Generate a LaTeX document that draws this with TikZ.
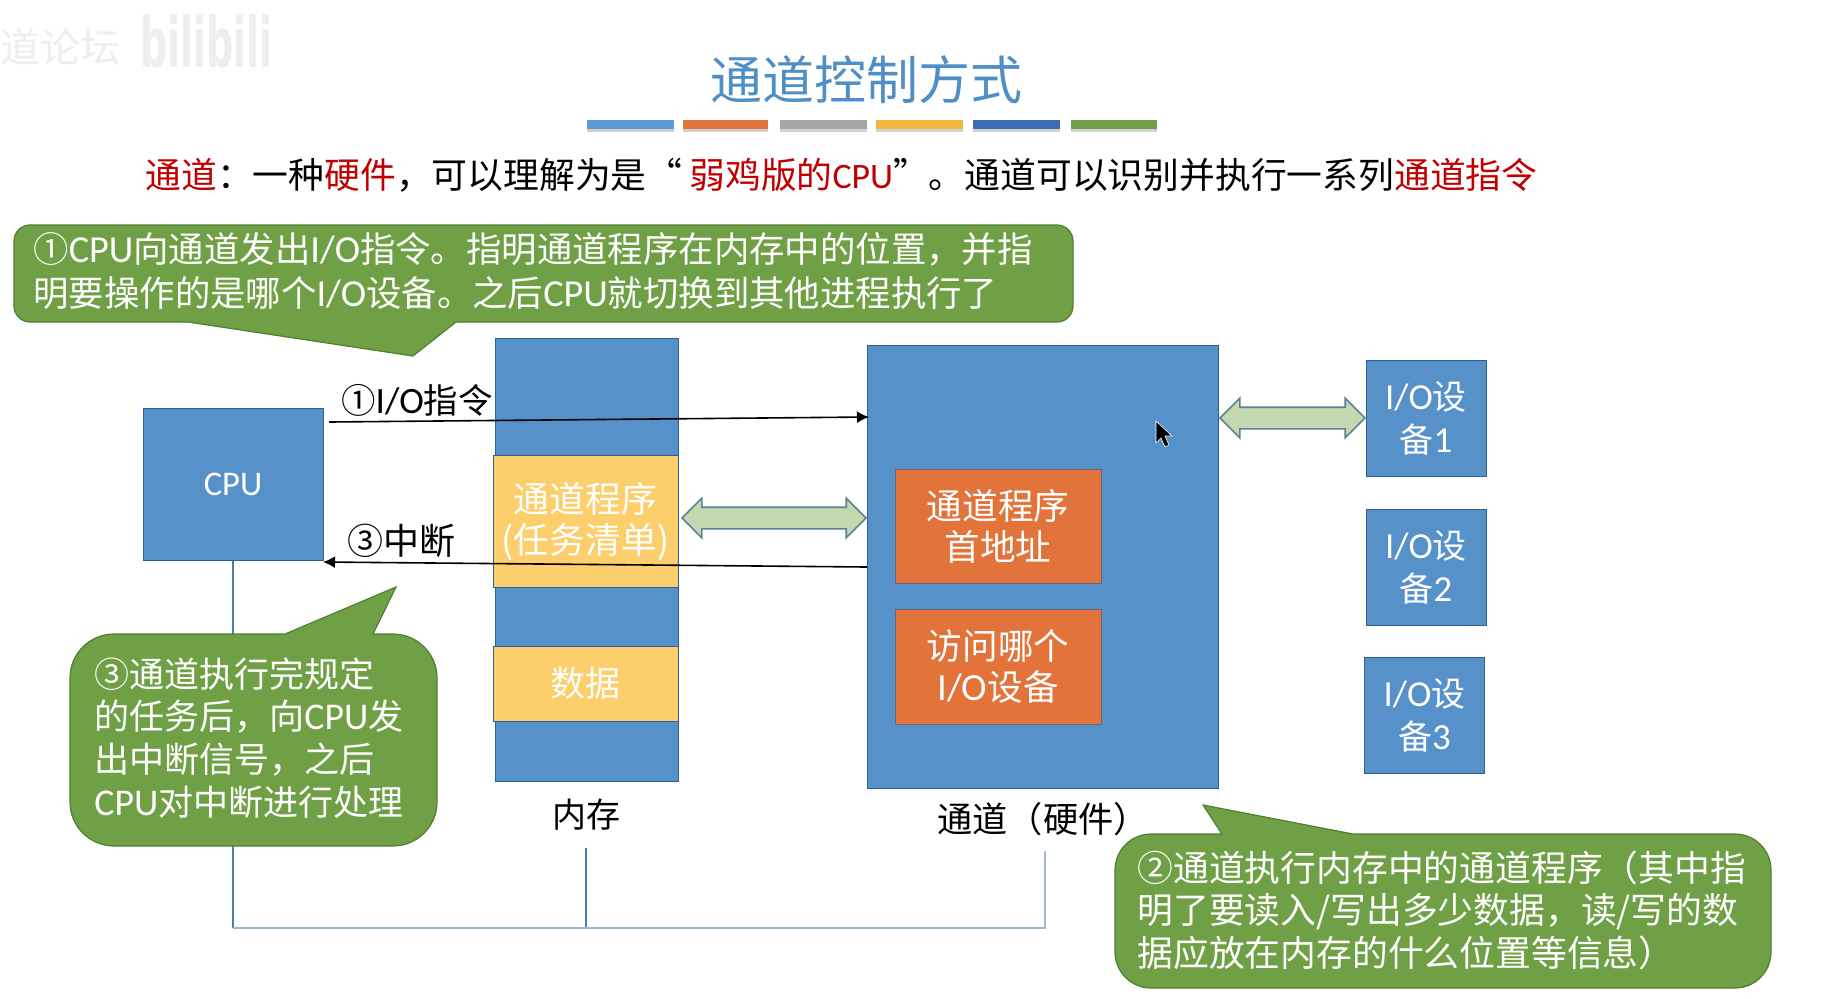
\documentclass[tikz,border=0pt]{standalone}
\usepackage{fontspec}
\setmainfont{Noto Sans CJK SC}
\newfontfamily\latf{Carlito}
\newcommand{\lat}[1]{{\latf\fontsize{1.08em}{1em}\selectfont #1}}
\usetikzlibrary{shapes.arrows,arrows.meta}
\definecolor{bluefill}{HTML}{5791C9}
\definecolor{blueline}{HTML}{2F5F8C}
\definecolor{yellowfill}{HTML}{FCCE6C}
\definecolor{orangefill}{HTML}{E2733A}
\definecolor{greenfill}{HTML}{70A045}
\definecolor{greenline}{HTML}{4F7F30}
\definecolor{arrowfill}{HTML}{C5D9B0}
\definecolor{arrowline}{HTML}{5B8296}
\definecolor{titleblue}{HTML}{4F8FC6}
\definecolor{redtext}{HTML}{C00000}
\definecolor{busline}{HTML}{9DB8D4}
\definecolor{stemline}{HTML}{4A7FA8}
\definecolor{marktext}{HTML}{EEEEEE}
\tikzset{
  x=0.5pt,y=-0.5pt,
  bluebox/.style={draw=blueline,line width=0.5pt,fill=bluefill,text=white,align=center,inner sep=0pt,font=\fontsize{16}{20}\selectfont},
  yellowbox/.style={bluebox,fill=yellowfill,text=white},
  orangebox/.style={bluebox,fill=orangefill,draw=blueline!70!orangefill},
  callout/.style={draw=greenline,line width=0.6pt,fill=greenfill},
  callouttext/.style={text=white,align=left,anchor=west,inner sep=0pt},
  plain/.style={text=black,inner sep=0pt,align=center},
  bothways/.style={double arrow,draw=arrowline,line width=0.8pt,fill=arrowfill,inner xsep=0pt,inner ysep=5pt,double arrow head extend=4.5pt},
  signal/.style={draw=black,line width=0.8pt,-{Latex[length=6pt,width=6pt]}},
}
\begin{document}
\begin{tikzpicture}
\useasboundingbox (0,0) rectangle (1842,998);
\fill[white] (0,0) rectangle (1842,998);

% watermark
\node[text=marktext,inner sep=0pt,anchor=west,font=\fontsize{20}{22}\selectfont] (markA) at (0,47) {道论坛};
\node[text=marktext,inner sep=0pt,anchor=west,font=\fontsize{24}{26}\selectfont,xscale=0.79,yscale=1.45] (markB) at (140,42) {\fontspec{DejaVu Sans}\bfseries bilibili};

% title
\node[text=titleblue,inner sep=0pt,font=\fontsize{26}{30}\selectfont] (title) at (866,80) {通道控制方式};
\foreach \n/\a/\b/\c in {barA/587/674/5B9BD5,barB/683/768/E2733A,barC/780/867/A5A5A5,barD/876/963/F4B63F,barE/973/1060/3F6BB5,barF/1071/1157/70A045}{
  \definecolor{barcolor}{HTML}{\c}
  \fill[black!18] (\a,123) rectangle (\b,132);
  \fill[barcolor] (\a,120) rectangle (\b,129);
}

% subtitle
\node[anchor=west,inner sep=0pt,font=\fontsize{17.9}{22}\selectfont] (sub) at (145,175) {\textcolor{redtext}{通道}：一种\textcolor{redtext}{硬件}，可以理解为是“\hspace{3.5pt}\textcolor{redtext}{弱鸡版的{\latf\fontsize{17.9}{22}\selectfont CPU}}”。通道可以识别并执行一系列\textcolor{redtext}{通道指令}};

% boxes
\node[bluebox,minimum width=90pt,minimum height=76pt] (cpu) at (233,484) {\lat{CPU}};
\node[bluebox,minimum width=91.5pt,minimum height=221.5pt] (mem) at (586.5,559.5) {};
\node[yellowbox,minimum width=92.5pt,minimum height=66pt,font=\fontsize{17.9}{20.5}\selectfont] (prog) at (585.5,521) {通道程序\\(任务清单)};
\node[yellowbox,minimum width=92.5pt,minimum height=37.5pt,font=\fontsize{17.5}{20}\selectfont] (data) at (585.5,683.5) {数据};
\node[bluebox,minimum width=175.5pt,minimum height=221.5pt] (chan) at (1042.5,566.5) {};
\node[orangebox,minimum width=103pt,minimum height=57pt,font=\fontsize{17.8}{20.5}\selectfont] (addr) at (998,526) {通道程序\\首地址};
\node[orangebox,minimum width=103pt,minimum height=57.5pt,font=\fontsize{17.8}{20.5}\selectfont] (which) at (998,666.5) {访问哪个\\\lat{I/O}设备};
\node[bluebox,minimum width=60pt,minimum height=58pt,font=\fontsize{17}{21.5}\selectfont] (ioA) at (1426,418) {\lat{I/O}设\\备\lat{1}};
\node[bluebox,minimum width=60pt,minimum height=58pt,font=\fontsize{17}{21.5}\selectfont] (ioB) at (1426,567) {\lat{I/O}设\\备\lat{2}};
\node[bluebox,minimum width=60pt,minimum height=58pt,font=\fontsize{17}{21.5}\selectfont] (ioC) at (1424.5,715) {\lat{I/O}设\\备\lat{3}};

% labels
\node[plain,font=\fontsize{17}{20}\selectfont] (memlabel) at (586,815) {内存};
\node[plain,anchor=west,font=\fontsize{17.6}{20}\selectfont] (chanlabel) at (937,819) {通道（硬件）};

% bus
\coordinate (memstem) at (586,848);
\coordinate (chanstem) at (1045,851);
\coordinate (busL) at (233,928);
\coordinate (busM) at (586,928);
\coordinate (busR) at (1045,928);
\draw[stemline,line width=0.6pt] (cpu.south) -- (busL);
\draw[stemline,line width=0.6pt] (memstem) -- (busM);
\draw[busline,line width=1pt] (chanstem) -- (busR) -- (busL);

% double arrows
\node[bothways,minimum height=92pt] (arrowMem) at (774,518) {};
\node[bothways,minimum height=72.5pt] (arrowIO) at (1292.5,418) {};

% signal arrows
\coordinate (sigAs) at (329,422);
\coordinate (sigAe) at (869,417);
\coordinate (sigBs) at (867,567);
\coordinate (sigBe) at (323,562);
\draw[signal] (sigAs) -- (sigAe);
\draw[signal] (sigBs) -- (sigBe);
\node[plain,font=\fontsize{17.2}{20}\selectfont] (sigAl) at (417,400) {①\lat{I/O}指令};
\node[plain,font=\fontsize{18}{20}\selectfont] (sigBl) at (401,541) {③中断};

% callouts
\path[callout] (30,225) -- (1057,225) arc[start angle=90,end angle=0,radius=8pt] -- (1073,306) arc[start angle=0,end angle=-90,radius=8pt] -- (456,322) -- (413,356) -- (188,322) -- (30,322) arc[start angle=-90,end angle=-180,radius=8pt] -- (14,241) arc[start angle=180,end angle=90,radius=8pt] -- cycle;
\node[callouttext,font=\fontsize{17.7}{21.7}\selectfont] (noteA) at (33,271) {①\lat{CPU}向通道发出\lat{I/O}指令。指明通道程序在内存中的位置，并指\\明要操作的是哪个\lat{I/O}设备。之后\lat{CPU}就切换到其他进程执行了};

\path[callout] (114,634) -- (285,634) -- (396,587) -- (373,634) -- (393,634) arc[start angle=90,end angle=0,radius=22pt] -- (437,802) arc[start angle=0,end angle=-90,radius=22pt] -- (114,846) arc[start angle=-90,end angle=-180,radius=22pt] -- (70,678) arc[start angle=180,end angle=90,radius=22pt] -- cycle;
\node[callouttext,font=\fontsize{17.5}{21.4}\selectfont] (noteC) at (94,738) {③通道执行完规定\\的任务后，向\lat{CPU}发\\出中断信号，之后\\\lat{CPU}对中断进行处理};

\path[callout] (1151,834) -- (1222,834) -- (1203,805) -- (1353,834) -- (1735,834) arc[start angle=90,end angle=0,radius=18pt] -- (1771,952) arc[start angle=0,end angle=-90,radius=18pt] -- (1151,988) arc[start angle=-90,end angle=-180,radius=18pt] -- (1115,870) arc[start angle=180,end angle=90,radius=18pt] -- cycle;
\node[callouttext,font=\fontsize{17.9}{21.2}\selectfont] (noteB) at (1137,910) {②通道执行内存中的通道程序（其中指\\明了要读入/写出多少数据，读/写的数\\据应放在内存的什么位置等信息）};

% mouse cursor
\fill[black,draw=white,line width=0.3pt] (1156,421) -- (1156,443) -- (1161,438) -- (1165,447) -- (1169,445) -- (1165,436) -- (1172,436) -- cycle;
\end{tikzpicture}
\end{document}
